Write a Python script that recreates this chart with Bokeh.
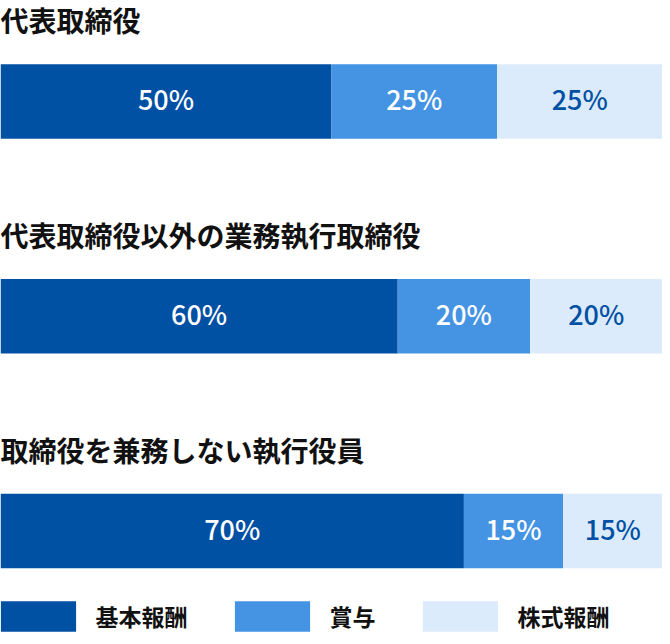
from bokeh.plotting import figure
from bokeh.models import Range1d, Legend, LegendItem
from bokeh.core.properties import value
from bokeh.embed import file_html
from bokeh.resources import INLINE

# ---- data ----
groups = ["代表取締役", "代表取締役以外の業務執行取締役", "取締役を兼務しない執行役員"]
components = ["基本報酬", "賞与", "株式報酬"]
base_pay = [50, 60, 70]
bonus = [25, 20, 15]
stock_pay = [25, 20, 15]

# ---- style ----
colors = ["#0050A4", "#4593E3", "#DCEBFB"]
label_colors = ["#FFFFFF", "#FFFFFF", "#0050A4"]
FONT = "Noto Sans CJK JP"
FONT_MED = "Noto Sans CJK JP Medium, Noto Sans CJK JP"

W, H = 662, 636
row_px = 214.75          # pixel distance between rows
first_px = 101.0         # pixel centre of first bar from top
rows = list(range(len(groups)))

p = figure(width=W, height=H, output_backend="svg", toolbar_location=None,
           x_range=Range1d(0, 100),
           y_range=Range1d((H - first_px) / row_px, -first_px / row_px),
           x_axis_location=None, y_axis_location=None,
           min_border=0, outline_line_color=None)
p.grid.visible = False
p.background_fill_color = "white"
p.border_fill_color = "white"

series = [base_pay, bonus, stock_pay]
left = [0.0] * len(groups)
renderers = []
for k, vals in enumerate(series):
    right = [l + v for l, v in zip(left, vals)]
    r = p.hbar(y=rows, left=left, right=right, height=74.5 / row_px,
               fill_color=colors[k], line_color=None)
    renderers.append(r)
    centers = [(l + rr) / 2 for l, rr in zip(left, right)]
    p.text(x=centers, y=rows, text=[f"{v}%" for v in vals],
           text_align="center", text_baseline="middle", y_offset=-3,
           text_color=label_colors[k], text_font=value(FONT_MED),
           text_font_size="27px", text_font_style="normal")
    left = right

# group titles above each bar
p.text(x=[0] * len(groups), y=[r - 81.5 / row_px for r in rows], text=groups,
       text_align="left", text_baseline="middle", text_color="#111111",
       text_font=value(FONT), text_font_size="28px", text_font_style="bold")

legend = Legend(
    items=[LegendItem(label=components[k], renderers=[renderers[k]]) for k in range(3)],
    orientation="horizontal", location=(-9.4, 1.25),
    glyph_width=94, glyph_height=38, label_height=38, label_standoff=11,
    spacing=37, padding=0, margin=0,
    border_line_color=None, background_fill_alpha=0,
    label_text_font=FONT, label_text_font_size="23px",
    label_text_font_style="bold", label_text_color="#111111",
    label_text_baseline="middle",
)
p.add_layout(legend)

open("out.html", "w").write(file_html(p, INLINE))
